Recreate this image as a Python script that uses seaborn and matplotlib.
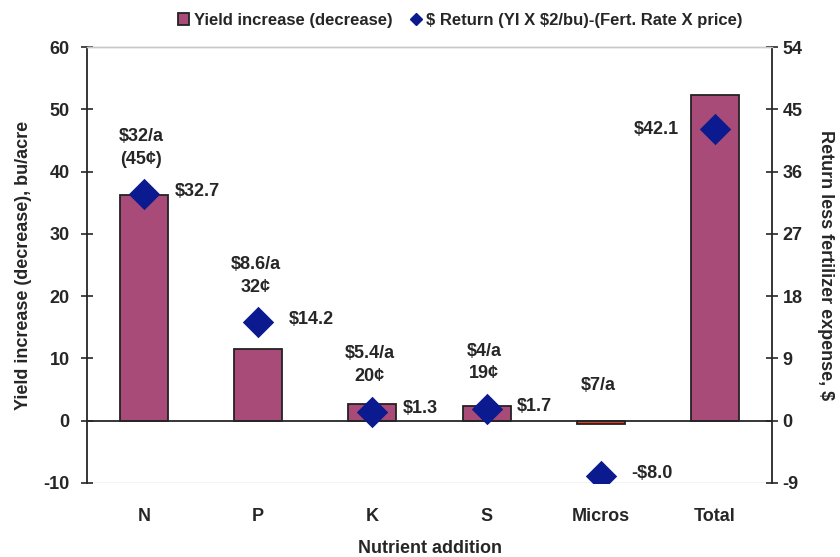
import matplotlib
matplotlib.use("Agg")
import matplotlib.pyplot as plt
from matplotlib.patches import Patch
from matplotlib.lines import Line2D
import seaborn as sns
import pandas as pd

# data
nutrients = ["N", "P", "K", "S", "Micros", "Total"]
yield_change = [36.2, 11.5, 2.6, 2.3, -0.6, 52.3]
net_return = [32.7, 14.2, 1.3, 1.7, -8.0, 42.1]
return_labels = ["$32.7", "$14.2", "$1.3", "$1.7", "-$8.0", "$42.1"]
cost_notes = ["$32/a\n(45\u00a2)", "$8.6/a\n32\u00a2", "$5.4/a\n20\u00a2", "$4/a\n19\u00a2", "$7/a", ""]
left_ticks = [-10, 0, 10, 20, 30, 40, 50, 60]
right_ticks = [-9, 0, 9, 18, 27, 36, 45, 54]

BAR = "#A94B78"
DIAMOND = "#0B1A8F"
FS = 13

sns.set_style("white")
plt.rcParams["font.family"] = ["Liberation Sans", "DejaVu Sans"]
plt.rcParams["font.weight"] = "bold"
plt.rcParams["axes.labelweight"] = "bold"
plt.rcParams["font.size"] = FS
plt.rcParams["axes.unicode_minus"] = False
plt.rcParams["text.parse_math"] = False

df = pd.DataFrame({"nutrient": nutrients, "yield": yield_change, "ret": net_return})

fig = plt.figure(figsize=(8.4, 5.57), dpi=100)
ax = fig.add_axes([0.1036, 0.133, 0.8155, 0.7826])

bar_colors = [BAR] * len(nutrients)
bar_colors[4] = "#E0401E"
sns.barplot(data=df, x="nutrient", y="yield", hue="nutrient", palette=bar_colors,
            legend=False, width=0.42, saturation=1, edgecolor="#222222", linewidth=1.3,
            ax=ax, zorder=2)

ax.set_ylim(left_ticks[0], left_ticks[-1])
ax.set_yticks(left_ticks)
ax.set_xlim(-0.5, len(nutrients) - 0.5)

ax2 = ax.twinx()
sns.stripplot(data=df, x="nutrient", y="ret", jitter=False, marker="D", size=16,
              color=DIAMOND, linewidth=0, ax=ax2, zorder=5)
ax2.set_ylim(right_ticks[0], right_ticks[-1])
ax2.set_yticks(right_ticks)
ax.set_xlim(-0.5, len(nutrients) - 0.5)

# spines
for a in (ax, ax2):
    a.spines["top"].set_color("#c8c8c8")
    a.spines["top"].set_linewidth(1.0)
ax.spines["right"].set_visible(False)
ax.spines["left"].set_linewidth(1.3)
ax.spines["bottom"].set_position(("data", 0))
ax.spines["bottom"].set_linewidth(1.3)
ax2.spines["left"].set_visible(False)
ax2.spines["bottom"].set_visible(False)
ax2.spines["right"].set_linewidth(1.3)
ax.axhline(left_ticks[0], color="#c8c8c8", lw=1.0, zorder=0)

ax.tick_params(axis="y", direction="inout", length=9, width=1.2, labelsize=FS, pad=8)
ax2.tick_params(axis="y", direction="inout", length=9, width=1.2, labelsize=FS, pad=3)
ax.set_xticks(range(len(nutrients)))
ax.set_xticklabels(nutrients)
ax.tick_params(axis="x", which="major", length=0, pad=63, labelsize=FS)
ax.set_xticks([i + 0.5 for i in range(len(nutrients) - 1)], minor=True)
ax.tick_params(axis="x", which="minor", direction="inout", length=10, width=1.2)

ax.set_xlabel("Nutrient addition", fontsize=FS, labelpad=11)
ax.set_ylabel("Yield increase (decrease), bu/acre", fontsize=FS, labelpad=8)
ax2.set_ylabel("Return less fertilizer expense, $", fontsize=FS, rotation=270, labelpad=23)

# value labels next to the diamonds
for i, (val, lab) in enumerate(zip(net_return, return_labels)):
    if nutrients[i] == "Total":
        ax2.annotate(lab, (i, val), xytext=(-26, 0), textcoords="offset points",
                     ha="right", va="center", fontsize=FS, fontweight="bold")
    else:
        ax2.annotate(lab, (i, val), xytext=(22, 2), textcoords="offset points",
                     ha="left", va="center", fontsize=FS, fontweight="bold")

# cost notes above the diamonds
for i, (val, note) in enumerate(zip(net_return, cost_notes)):
    if note:
        ax2.annotate(note, (i, max(val, 0)), xytext=(-2, 19), textcoords="offset points",
                     ha="center", va="bottom", fontsize=FS, fontweight="bold",
                     linespacing=1.45)

handles = [
    Patch(facecolor=BAR, edgecolor="#222222", linewidth=1.3),
    Line2D([], [], marker="D", color=DIAMOND, linestyle="none", markersize=6),
]
fig.legend(handles, ["Yield increase (decrease)", "$ Return (YI X $2/bu)-(Fert. Rate X price)"],
           loc="center", bbox_to_anchor=(0.548, 0.963), ncol=2, frameon=False,
           handlelength=0.7, handleheight=0.7, handletextpad=0.3, columnspacing=1.0,
           prop={"size": 12, "weight": "bold"})

fig.savefig("out.png", dpi=100)
